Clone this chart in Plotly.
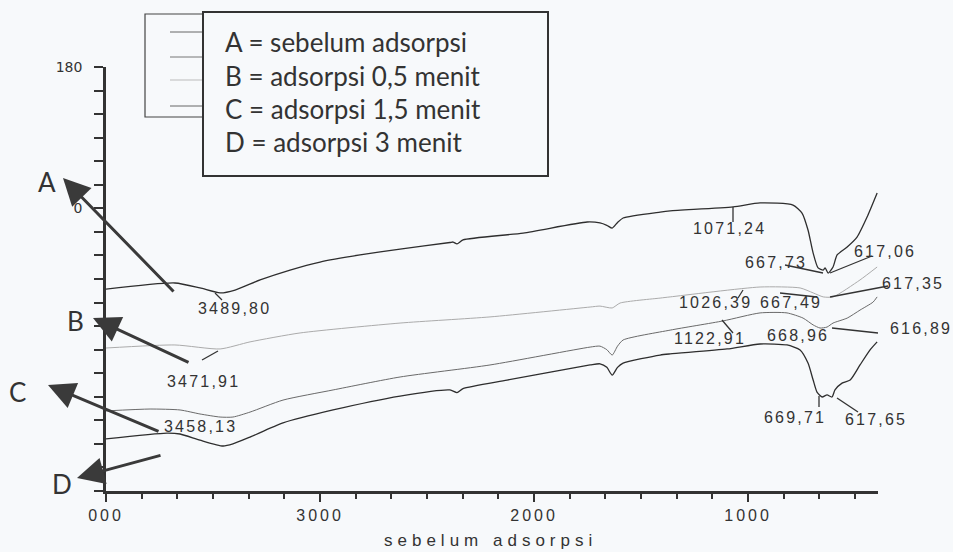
import plotly.graph_objects as go

# ---------------- data (wavenumber cm-1, relative transmittance) ----------------
a_wn = [4000, 3678, 3561, 3467, 3397, 3280, 3140, 3000, 2813, 2626, 2393, 2378, 2360, 2332, 2051,
        1752, 1692, 1660, 1635, 1610, 1584, 1411, 1364, 1070, 944, 790, 748, 720, 696, 673, 649,
        640, 626, 603, 584, 537, 491, 444, 397]
a_val = [85.7, 88.3, 86.2, 84.1, 85.3, 89.6, 93.8, 97.2, 100.2, 102.7, 105.5, 105.7, 104.9, 106.6, 109.5,
         114.2, 113.8, 112.8, 111.6, 114.0, 115.9, 118.4, 118.9, 120.6, 122.3, 121.4, 118.0, 110.8, 101.0, 94.7, 93.8,
         94.7, 92.5, 95.1, 100.2, 103.6, 107.8, 116.3, 126.5]

b_wn = [4000, 3678, 3467, 3327, 3093, 2626, 2206, 1738, 1692, 1635, 1598, 1411, 1364, 944, 757, 696,
        649, 603, 477, 397]
b_val = [60.7, 62.0, 60.3, 63.3, 67.1, 71.3, 73.9, 78.1, 78.5, 77.7, 79.8, 81.9, 82.4, 86.6, 86.2, 84.1,
         82.4, 82.4, 89.6, 95.1]

c_wn = [4000, 3794, 3654, 3561, 3467, 3407, 3327, 3173, 2939, 2626, 2206, 1738, 1692, 1660, 1635, 1610,
        1584, 1364, 1117, 944, 818, 743, 696, 664, 631, 603, 537, 477, 416, 397]
c_val = [34.0, 34.8, 34.4, 32.7, 31.4, 31.4, 33.5, 38.6, 42.9, 48.4, 53.5, 61.1, 61.5, 60.0, 57.7, 61.5,
         64.1, 68.3, 72.2, 75.6, 75.6, 73.4, 70.5, 69.2, 69.6, 71.3, 73.4, 76.8, 80.2, 82.4]

d_wn = [4000, 3715, 3654, 3561, 3453, 3407, 3327, 3173, 2939, 2626, 2393, 2360, 2332, 2126, 1738, 1692,
        1660, 1635, 1610, 1584, 1411, 1364, 1098, 944, 818, 757, 720, 696, 678, 654, 631, 608, 594,
        561, 523, 477, 430, 397]
d_val = [22.1, 24.6, 24.2, 21.6, 19.1, 20.0, 22.9, 28.9, 34.4, 40.3, 42.9, 41.8, 43.5, 47.1, 53.5, 54.0,
         52.5, 49.2, 52.5, 54.3, 57.7, 58.2, 60.3, 62.4, 62.0, 59.9, 54.3, 47.1, 42.0, 39.9, 40.8, 39.9, 42.9,
         45.8, 47.1, 53.5, 59.9, 63.3]

x_tickvals = [4000, 3000, 2000, 1000]
x_ticktext = ["000", "3000", "2000", "1000"]
x_minor = [4000 - k * 1000 / 6 for k in range(1, 22) if k % 6 != 0]
y_tickvals = list(range(0, 181, 10))
y_ticktext = ["180" if v == 180 else ("0" if v == 120 else "") for v in y_tickvals]

legend_lines = ["A = sebelum adsorpsi", "B = adsorpsi 0,5 menit",
                "C = adsorpsi 1,5 menit", "D = adsorpsi 3 menit"]
peak_labels = ["3489,80", "3471,91", "3458,13", "1071,24", "667,73", "617,06", "1026,39",
               "667,49", "617,35", "1122,91", "668,96", "616,89", "669,71", "617,65"]
arrow_letters = ["A", "B", "C", "D"]
x_title = "sebelum adsorpsi"

# ---------------- layout geometry (pixels) ----------------
W, H = 953, 552
L, R, T, B = 106, 75, 67, 61
PW, PH = W - L - R, H - T - B


def P(px, py):
    return (px - L) / PW, (H - B - py) / PH


INK = "#333333"
BG = "#f7f9fb"

fig = go.Figure()
series = [(a_wn, a_val, "#2e2e2e", 1.3), (b_wn, b_val, "#ababab", 1.0),
          (c_wn, c_val, "#6a6a6a", 1.0), (d_wn, d_val, "#2e2e2e", 1.3)]
for wn, val, col, lw in series:
    fig.add_trace(go.Scatter(x=wn, y=val, mode="lines", line=dict(color=col, width=lw, shape="spline", smoothing=0.6),
                             showlegend=False, hoverinfo="skip", cliponaxis=False))

LS = "letter-spacing:2.2px"
label_pos = [(234, 308), (203, 381), (200, 426), (729, 228), (776, 262), (885, 251), (715, 302),
             (791, 302), (913, 283), (710, 338), (798, 335), (921, 328), (795, 417), (876, 419)]
annotations = []
for txt, (px, py) in zip(peak_labels, label_pos):
    x, y = P(px, py)
    annotations.append(dict(x=x, y=y, xref="paper", yref="paper", showarrow=False,
                            text=f'<span style="{LS}">{txt}</span>',
                            font=dict(family="Liberation Sans, Arial", size=16, color=INK),
                            xanchor="center", yanchor="middle"))

leaders = [((215, 293), (222, 300)), ((202, 360), (218, 351)), ((733, 207), (733, 222)),
           ((785, 265), (823, 273)), ((830, 273), (872, 256)), ((738, 298), (743, 290)),
           ((780, 293), (817, 297)), ((830, 297), (888, 286)), ((722, 320), (733, 333)),
           ((832, 328), (878, 333)), ((819, 396), (819, 407)), ((837, 398), (858, 412))]
shapes = []
for (x0p, y0p), (x1p, y1p) in leaders:
    x0, y0 = P(x0p, y0p)
    x1, y1 = P(x1p, y1p)
    shapes.append(dict(type="line", xref="paper", yref="paper", x0=x0, y0=y0, x1=x1, y1=y1,
                       line=dict(color=INK, width=1.3)))

# big arrows with letters
arrows = [((63, 178), (175, 293), (47, 182)), ((93, 318), (190, 363), (75, 321)),
          ((48, 385), (160, 432), (17, 392)), ((77, 478), (162, 455), (62, 484))]
for letter, (head, tail, lab) in zip(arrow_letters, arrows):
    hx, hy = P(*head)
    annotations.append(dict(x=hx, y=hy, xref="paper", yref="paper", showarrow=True, text="",
                            ax=tail[0] - head[0], ay=tail[1] - head[1],
                            arrowhead=2, arrowsize=1.8, arrowwidth=3, arrowcolor="#3a3a3a", standoff=0))
    lx, ly = P(*lab)
    annotations.append(dict(x=lx, y=ly, xref="paper", yref="paper", showarrow=False, text=letter,
                            font=dict(family="Lato", size=26, color=INK), xanchor="center", yanchor="middle"))

# legend boxes
bx0, by0 = P(145, 14)
bx1, by1 = P(203, 117)
shapes.append(dict(type="rect", xref="paper", yref="paper", x0=bx0, y0=by0, x1=bx1, y1=by1,
                   line=dict(color="#444444", width=1.2), fillcolor=BG))
for py, col in zip([32, 57, 80, 106], ["#666666", "#777777", "#bbbbbb", "#666666"]):
    x0, y0 = P(170, py)
    x1, _ = P(203, py)
    shapes.append(dict(type="line", xref="paper", yref="paper", x0=x0, y0=y0, x1=x1, y1=y0,
                       line=dict(color=col, width=1)))
ix0, iy0 = P(203, 12)
ix1, iy1 = P(548, 176)
shapes.append(dict(type="rect", xref="paper", yref="paper", x0=ix0, y0=iy0, x1=ix1, y1=iy1,
                   line=dict(color="#333333", width=2), fillcolor=BG))
for txt, py in zip(legend_lines, [42, 76, 109, 142]):
    x, y = P(223, py)
    annotations.append(dict(x=x, y=y, xref="paper", yref="paper", showarrow=False, text=txt,
                            font=dict(family="Lato", size=26, color=INK), xanchor="left", yanchor="middle"))

# x-axis title
tx, ty = P(490, 540)
annotations.append(dict(x=tx, y=ty, xref="paper", yref="paper", showarrow=False,
                        text=f'<span style="letter-spacing:5px">{x_title}</span>',
                        font=dict(family="Liberation Sans, Arial", size=17, color=INK),
                        xanchor="center", yanchor="middle"))

fig.update_layout(
    width=W, height=H, margin=dict(l=L, r=R, t=T, b=B),
    paper_bgcolor=BG, plot_bgcolor=BG,
    shapes=shapes, annotations=annotations,
    xaxis=dict(range=[4000, 393], showgrid=False, zeroline=False, showline=True, linecolor=INK, linewidth=2.5,
               tickmode="array", tickvals=x_tickvals,
               ticktext=[f'<span style="letter-spacing:3px">{t}</span>' for t in x_ticktext],
               ticks="outside", ticklen=8, tickwidth=2, tickcolor=INK,
               tickfont=dict(family="Liberation Sans, Arial", size=16, color=INK),
               minor=dict(tickvals=x_minor, ticks="outside", ticklen=5, tickwidth=2, tickcolor=INK, showgrid=False)),
    yaxis=dict(range=[0, 180], showgrid=False, zeroline=False, showline=True, linecolor=INK, linewidth=2.5,
               tickmode="array", tickvals=y_tickvals, ticktext=y_ticktext,
               ticks="outside", ticklen=9, tickwidth=2, tickcolor=INK, ticklabelstandoff=9,
               tickfont=dict(family="DejaVu Sans", size=14, color=INK)),
)

fig.write_html("out.html", config={"displayModeBar": False},
               post_script="document.body.style.margin='0';document.body.style.background='%s';" % BG)
